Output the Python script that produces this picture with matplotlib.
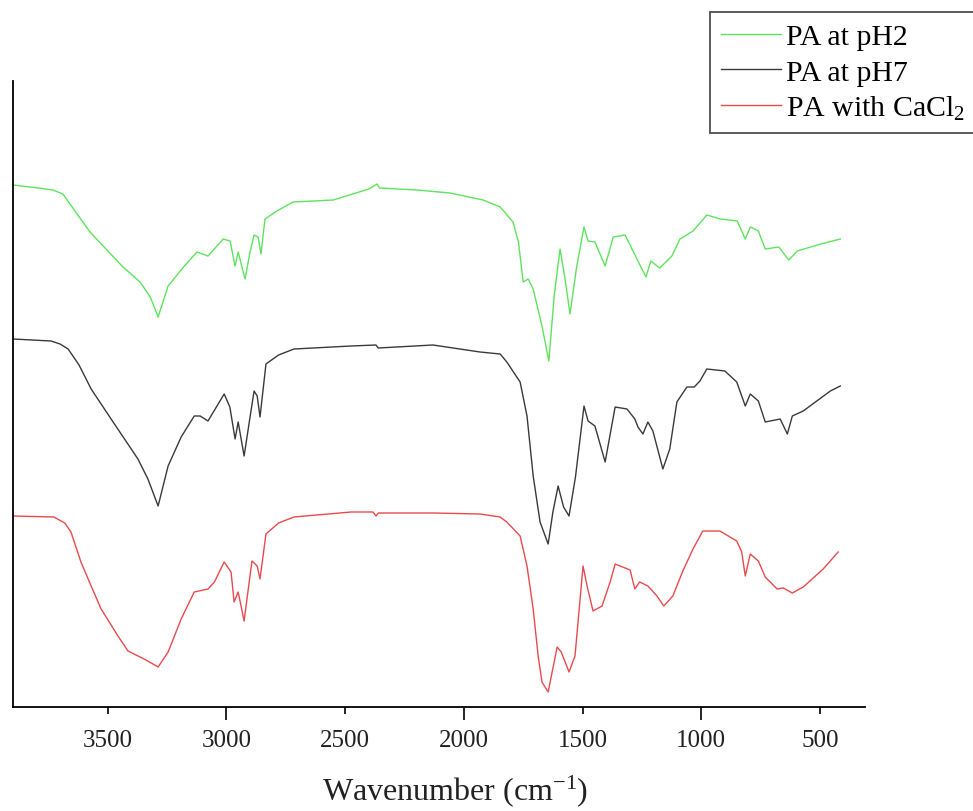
import matplotlib
matplotlib.use('Agg')
import matplotlib.pyplot as plt

plt.rcParams['font.family'] = ['Liberation Serif', 'DejaVu Serif']
plt.rcParams['mathtext.fontset'] = 'custom'
plt.rcParams['mathtext.rm'] = 'Liberation Serif'
plt.rcParams['mathtext.it'] = 'Liberation Serif:italic'

# FTIR spectra, values (transmittance, arbitrary units, stacked)
wn_ph2 = [3898, 3790, 3730, 3688, 3574, 3435, 3363, 3320, 3287, 3245, 3180, 3123, 3077, 3013,
          2984, 2963, 2950, 2921, 2900, 2883, 2866, 2854, 2837, 2787, 2719, 2550, 2400,
          2365, 2355, 2198, 2058, 1919, 1847, 1793, 1770, 1750, 1729, 1708, 1671, 1642,
          1620, 1595, 1575, 1553, 1525, 1494, 1477, 1448, 1405, 1371, 1321, 1271, 1233,
          1213, 1175, 1124, 1090, 1035, 977, 920, 849, 815, 794, 760, 731, 674, 632, 596,
          512, 415]
t_ph2 = [522, 519, 517, 513, 475, 440, 425, 410, 390, 421, 440, 455, 451, 468,
         466, 441, 455, 428, 455, 472, 470, 453, 488, 496, 505, 507, 518,
         523, 519, 517, 514, 507, 500, 485, 465, 425, 428, 418, 381, 346,
         410, 458, 430, 393, 440, 480, 466, 465, 441, 470, 472, 448, 430,
         446, 439, 451, 468, 476, 492, 488, 486, 468, 480, 476, 458, 460, 447, 456,
         462, 468]

wn_ph7 = [3898, 3738, 3700, 3666, 3620, 3569, 3485, 3372, 3330, 3287, 3245, 3190, 3135, 3110, 3077,
          3009, 2985, 2963, 2950, 2925, 2900, 2883, 2870, 2858, 2833, 2780, 2715, 2475, 2370,
          2360, 2130, 1932, 1847, 1819, 1763, 1734, 1708, 1679, 1645, 1625, 1603, 1580,
          1557, 1530, 1494, 1477, 1448, 1405, 1363, 1313, 1280, 1267, 1246, 1225, 1204,
          1162, 1133, 1103, 1061, 1030, 1006, 977, 901, 851, 815, 794, 760, 731, 668,
          638, 617, 571, 457, 415]
t_ph7 = [368, 366, 363, 358, 342, 318, 288, 248, 228, 201, 241, 270, 291, 291, 286,
         313, 300, 268, 285, 251, 290, 316, 311, 290, 343, 352, 358, 361, 362,
         359, 362, 355, 353, 345, 325, 291, 231, 185, 163, 195, 221, 200,
         191, 230, 301, 286, 281, 245, 300, 298, 288, 280, 273, 285, 276,
         238, 258, 305, 320, 320, 326, 338, 336, 325, 301, 313, 306, 285, 288,
         273, 291, 296, 316, 321]

wn_ca = [3898, 3726, 3680, 3654, 3612, 3569, 3527, 3456, 3414, 3346, 3287, 3245, 3190, 3135, 3077, 3050,
         3009, 2980, 2967, 2950, 2925, 2892, 2870, 2858, 2833, 2780, 2715, 2475, 2382, 2370,
         2360, 2130, 1932, 1847, 1819, 1763, 1734, 1708, 1687, 1671, 1645, 1607, 1590,
         1557, 1532, 1498, 1481, 1456, 1418, 1384, 1363, 1300, 1280, 1260, 1225, 1187,
         1158, 1120, 1078, 1035, 994, 922, 851, 830, 815, 794, 760, 731, 681, 655, 617,
         571, 487, 424]
t_ca = [191, 190, 184, 175, 145, 121, 98, 71, 56, 48, 40, 55, 88, 115, 118, 125,
        145, 135, 105, 115, 86, 146, 141, 128, 173, 184, 190, 195, 195, 191,
        194, 194, 193, 190, 185, 171, 141, 98, 51, 25, 15, 60, 55,
        35, 51, 141, 121, 96, 101, 125, 143, 137, 118, 125, 121, 111,
        101, 111, 136, 158, 176, 176, 166, 155, 131, 153, 146, 130, 118, 119, 114,
        120, 138, 155]

labels = ['PA at pH2', 'PA at pH7', 'PA with CaCl$_\\mathrm{2}$']
colors = ['#5ee35e', '#3a3a3a', '#e84a4e']

fig = plt.figure(figsize=(9.73, 8.12), dpi=100)
ax = fig.add_axes([13 / 973, 104 / 812, 852 / 973, 626 / 812])

lines = []
for wn, t, c, lab in [(wn_ph2, t_ph2, colors[0], labels[0]),
                      (wn_ph7, t_ph7, colors[1], labels[1]),
                      (wn_ca, t_ca, colors[2], labels[2])]:
    ln, = ax.plot(wn, t, color=c, lw=1.0, label=lab)
    lines.append(ln)

ax.set_xlim(3898, 311)
ax.set_ylim(0, 626)

for s in ['top', 'right']:
    ax.spines[s].set_visible(False)
for s in ['left', 'bottom']:
    ax.spines[s].set_linewidth(1.3)

ax.set_yticks([])
xticks = [3500, 3000, 2500, 2000, 1500, 1000, 500]
ax.set_xticks(xticks)
ax.set_xticklabels([str(v) for v in xticks])
ax.tick_params(axis='x', direction='out', length=5, width=1.2, pad=11,
               labelsize=18, labelcolor='#222222')
for tk, v in zip(ax.xaxis.get_major_ticks(), xticks):
    if v % 1000 == 0:
        tk.tick1line.set_markersize(9)

ax.set_xlabel('Wavenumber (cm$^{-1}$)', fontsize=23, color='#222222')
ax.xaxis.set_label_coords(0.519, -0.104)

leg = fig.legend(handles=lines, loc='upper left', bbox_to_anchor=(710 / 973, 1 - 13 / 812),
                 bbox_transform=fig.transFigure, frameon=True, fancybox=False,
                 fontsize=21.5, handlelength=2.0, handletextpad=0.15, labelspacing=0.28,
                 borderpad=0.38, borderaxespad=0)
leg.get_frame().set_edgecolor('#222222')
leg.get_frame().set_linewidth(1.3)

plt.savefig('out.png', dpi=100)
plt.close()
